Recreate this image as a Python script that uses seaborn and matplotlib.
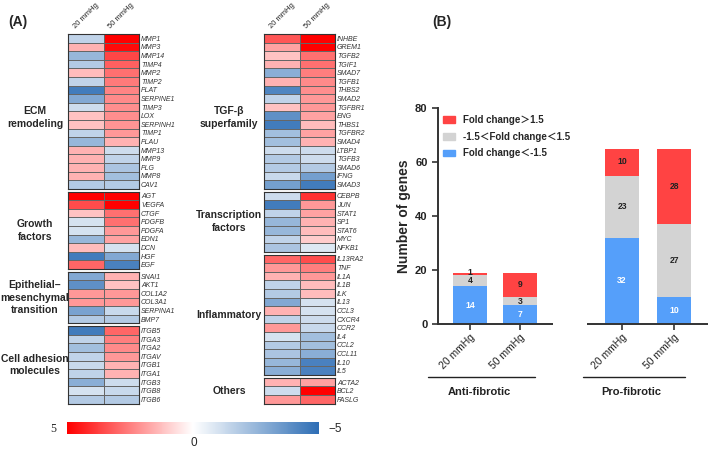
import numpy as np
import pandas as pd
import matplotlib
matplotlib.use('Agg')
import matplotlib.pyplot as plt
import matplotlib.transforms as mtransforms
import seaborn as sns
from matplotlib.colors import LinearSegmentedColormap
from matplotlib.patches import Patch

# ---- panel A: fold changes (scale -5..5) ----
ecm_genes = ['MMP1', 'MMP3', 'MMP14', 'TIMP4', 'MMP2', 'TIMP2', 'PLAT', 'SERPINE1', 'TIMP3',
             'LOX', 'SERPINH1', 'TIMP1', 'PLAU', 'MMP13', 'MMP9', 'PLG', 'MMP8', 'CAV1']
ecm_20 = [-1.5, 1.5, -2.5, -1.8, 1.3, -1.5, -4.5, -3.0, -1.2, 1.2, 1.2, -1.5, -2.5, 1.5, 1.5, 1.5, 1.5, -1.8]
ecm_50 = [5.0, 4.8, 3.6, 3.1, 2.8, 2.6, 2.4, 2.3, 2.2, 2.2, 2.1, 2.0, 1.5, -1.2, -1.5, -2.0, -2.2, -1.8]

gf_genes = ['AGT', 'VEGFA', 'CTGF', 'PDGFB', 'PDGFA', 'EDN1', 'DCN', 'HGF', 'EGF']
gf_20 = [5.0, 3.5, 1.2, -1.0, -1.0, -2.5, 1.3, -4.5, 3.0]
gf_50 = [5.0, 5.0, 2.8, 2.8, 2.0, 1.8, -1.0, -3.0, -4.3]

emt_genes = ['SNAI1', 'AKT1', 'COL1A2', 'COL3A1', 'SERPINA1', 'BMP7']
emt_20 = [-3.0, -3.8, 2.0, 2.0, -3.2, -1.8]
emt_50 = [1.5, 1.2, 2.0, 2.0, -1.3, -1.8]

cam_genes = ['ITGB5', 'ITGA3', 'ITGA2', 'ITGAV', 'ITGB1', 'ITGA1', 'ITGB3', 'ITGB8', 'ITGB6']
cam_20 = [-4.5, -1.5, -2.2, -1.5, -1.3, -1.5, -2.8, -1.0, -1.8]
cam_50 = [3.0, 2.5, 2.3, 2.0, 1.5, 1.5, -1.2, -1.3, -1.8]

tgf_genes = ['INHBE', 'GREM1', 'TGFB2', 'TGIF1', 'SMAD7', 'TGFB1', 'THBS2', 'SMAD2', 'TGFBR1',
             'ENG', 'THBS1', 'TGFBR2', 'SMAD4', 'LTBP1', 'TGFB3', 'SMAD6', 'IFNG', 'SMAD3']
tgf_20 = [3.3, 1.8, 1.2, 1.5, -2.8, 1.5, -4.2, -1.5, 1.2, -3.8, -4.5, -2.2, -2.2, -1.2, -1.8, -1.8, -1.3, -3.3]
tgf_50 = [5.0, 5.0, 2.8, 2.8, 2.5, 2.3, 2.2, 2.0, 2.0, 1.8, 1.3, 1.8, 1.5, -1.2, -1.2, -1.8, -3.3, -4.5]

tf_genes = ['CEBPB', 'JUN', 'STAT1', 'SP1', 'STAT6', 'MYC', 'NFKB1']
tf_20 = [-1.2, -4.5, -1.5, -2.5, -2.5, -1.5, -2.0]
tf_50 = [4.0, 2.0, 1.8, 1.5, 1.3, 1.0, -0.8]

inf_genes = ['IL13RA2', 'TNF', 'IL1A', 'IL1B', 'ILK', 'IL13', 'CCL3', 'CXCR4', 'CCR2',
             'IL4', 'CCL2', 'CCL11', 'IL10', 'IL5']
inf_20 = [3.0, 2.0, 1.5, -1.5, -1.8, -3.0, 1.5, -1.5, 2.0, -1.0, -1.8, -2.0, -2.5, -2.8]
inf_50 = [3.5, 2.5, 2.0, 1.3, 1.3, -1.0, -1.0, -1.2, -1.3, -2.2, -2.2, -2.8, -4.3, -4.3]

oth_genes = ['ACTA2', 'BCL2', 'FASLG']
oth_20 = [1.5, -1.2, 2.0]
oth_50 = [1.8, 5.0, 3.0]

conditions = ['20 mmHg', '50 mmHg']

# ---- panel B: number of genes per fold-change class ----
bar_labels = ['20 mmHg', '50 mmHg', '20 mmHg', '50 mmHg']
bar_pos = [0.0, 1.0, 3.04, 4.08]
n_down = [14, 7, 32, 10]
n_mid = [4, 3, 23, 27]
n_up = [1, 9, 10, 28]
group_names = ['Anti-fibrotic', 'Pro-fibrotic']

W, H = 709, 450
sns.set_style('white')
plt.rcParams['font.family'] = ['Liberation Sans', 'Noto Sans CJK SC', 'DejaVu Sans']

fig = plt.figure(figsize=(W / 100, H / 100), dpi=100)


def px_axes(x0, y0, x1, y1):
    return fig.add_axes([x0 / W, 1 - y1 / H, (x1 - x0) / W, (y1 - y0) / H])


cmap = LinearSegmentedColormap.from_list('fc', ['#2E6EB5', '#FFFFFF', '#FF0000'])

left_groups = [('ECM\nremodeling', ecm_genes, ecm_20, ecm_50),
               ('Growth\nfactors', gf_genes, gf_20, gf_50),
               ('Epithelial–\nmesenchymal\ntransition', emt_genes, emt_20, emt_50),
               ('Cell adhesion\nmolecules', cam_genes, cam_20, cam_50)]
right_groups = [('TGF-β\nsuperfamily', tgf_genes, tgf_20, tgf_50),
                ('Transcription\nfactors', tf_genes, tf_20, tf_50),
                ('Inflammatory', inf_genes, inf_20, inf_50),
                ('Others', oth_genes, oth_20, oth_50)]

row_h, gap, top = 8.6, 2.8, 34
mappable = None
for groups, x0, x1, label_x in [(left_groups, 68, 139, 35), (right_groups, 264, 335, 229)]:
    y = top
    for name, genes, v20, v50 in groups:
        df = pd.DataFrame({conditions[0]: v20, conditions[1]: v50}, index=genes)
        y1 = y + row_h * len(genes)
        ax = px_axes(x0, y, x1, y1)
        sns.heatmap(df, ax=ax, cmap=cmap, vmin=-5, vmax=5, cbar=False,
                    linewidths=0.4, linecolor='#666666', xticklabels=False, yticklabels=True)
        mappable = ax.collections[0]
        ax.yaxis.tick_right()
        ax.tick_params(axis='y', length=0, pad=1.5)
        for t in ax.get_yticklabels():
            t.set_rotation(0)
            t.set_fontsize(5)
            t.set_fontstyle('italic')
            t.set_color('#333333')
        for sp in ax.spines.values():
            sp.set_visible(True)
            sp.set_linewidth(0.8)
            sp.set_color('#333333')
        ly = (y + y1) / 2 + (6 if len(genes) > 15 else 0)
        fig.text(label_x / W, 1 - ly / H, name, ha='center', va='center',
                 fontsize=7.5, fontweight='bold', linespacing=1.3)
        y = y1 + gap
    # column headers
    cw = (x1 - x0) / 2
    for i, c in enumerate(conditions):
        fig.text((x0 + cw * (i + 0.5)) / W, 1 - 16 / H, c, rotation=45,
                 ha='center', va='center', fontsize=5.5, color='#222222')

# colour bar
cax = px_axes(67, 422, 319, 434)
cb = fig.colorbar(mappable, cax=cax, orientation='horizontal')
cax.invert_xaxis()
cax.set_xticks([])
cb.outline.set_visible(False)
fig.text(53 / W, 1 - 429 / H, '5', ha='center', va='center', fontsize=8.5, family='Liberation Serif')
fig.text(194 / W, 1 - 443 / H, '0', ha='center', va='center', fontsize=8.5)
fig.text(335 / W, 1 - 429 / H, '−5', ha='center', va='center', fontsize=8.5)

fig.text(8 / W, 1 - 22 / H, '(A)', ha='left', va='center', fontsize=10, fontweight='bold')
fig.text(432 / W, 1 - 22 / H, '(B)', ha='left', va='center', fontsize=10, fontweight='bold')

# ---- panel B ----
red, grey, blue = '#FF4343', '#D3D3D3', '#559FFA'
axb = px_axes(438, 108, 708, 324)
tot_up = [a + b + c for a, b, c in zip(n_down, n_mid, n_up)]
tot_mid = [a + b for a, b in zip(n_down, n_mid)]
for vals, col in [(tot_up, red), (tot_mid, grey), (n_down, blue)]:
    sns.barplot(x=bar_pos, y=vals, native_scale=True, orient='x', color=col, saturation=1,
                width=0.68, errorbar=None, ax=axb, linewidth=0)

for i, p in enumerate(bar_pos):
    axb.text(p, n_down[i] / 2, str(n_down[i]), ha='center', va='center', fontsize=6.2,
             fontweight='bold', color='white')
    axb.text(p, n_down[i] + n_mid[i] / 2, str(n_mid[i]), ha='center', va='center',
             fontsize=6.2, fontweight='bold', color='#222222')
    axb.text(p, tot_mid[i] + n_up[i] / 2 + (0.4 if n_up[i] < 2 else 0), str(n_up[i]),
             ha='center', va='center', fontsize=6.2, fontweight='bold', color='#222222')

axb.set_xlim(-0.64, 4.76)
axb.set_ylim(0, 80)
axb.set_yticks([0, 20, 40, 60, 80])
axb.set_xticks(bar_pos)
axb.set_xticklabels(bar_labels, rotation=45, ha='right', rotation_mode='anchor', fontsize=7.5,
                    color='#222222')
axb.tick_params(axis='x', length=4, width=1.2, color='#333333', pad=2, bottom=True)
axb.tick_params(axis='y', length=4, width=1.2, color='#333333', labelsize=8, left=True)
for t in axb.get_yticklabels():
    t.set_fontweight('bold')
    t.set_color('#222222')
axb.set_ylabel('Number of genes', fontsize=10, fontweight='bold', labelpad=3)
axb.set_xlabel('')
for s in ['top', 'right', 'bottom']:
    axb.spines[s].set_visible(False)
axb.spines['left'].set_linewidth(1.4)
axb.spines['left'].set_color('#333333')

# broken x-axis and group brackets
axb.hlines(0, -0.64, 1.66, color='#333333', linewidth=1.4, clip_on=False)
axb.hlines(0, 2.34, 4.76, color='#333333', linewidth=1.4, clip_on=False)
trans = mtransforms.blended_transform_factory(axb.transData, axb.transAxes)
for (xa, xb), name in zip([(-0.84, 1.30), (2.26, 4.30)], group_names):
    axb.plot([xa, xb], [-0.245, -0.245], color='#222222', linewidth=1, transform=trans, clip_on=False)
    axb.text((xa + xb) / 2 - 0.05, -0.315, name, ha='center', va='center', fontsize=8,
             fontweight='bold', color='#222222', transform=trans)

handles = [Patch(color=red, label='Fold change＞1.5'),
           Patch(color=grey, label='-1.5＜Fold change＜1.5'),
           Patch(color=blue, label='Fold change＜-1.5')]
fig.legend(handles=handles, loc='upper left', bbox_to_anchor=(434 / W, 1 - 106 / H), frameon=False,
           handlelength=1.3, handleheight=0.7, handletextpad=0.8, labelspacing=0.7,
           prop={'family': ['Liberation Sans', 'Noto Sans CJK SC'], 'weight': 'bold', 'size': 7})

fig.savefig('out.png', dpi=100)
